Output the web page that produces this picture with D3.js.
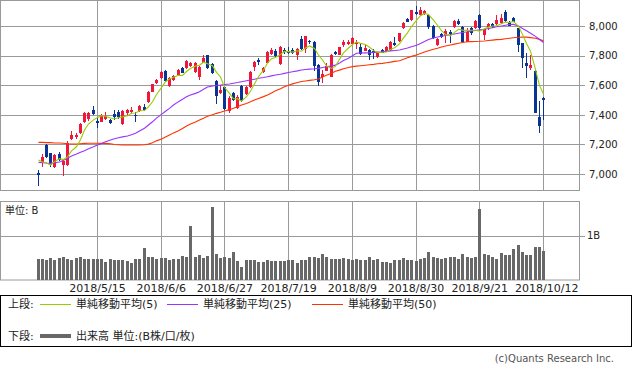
<!DOCTYPE html>
<html>
<head>
<meta charset="utf-8">
<script src="https://cdnjs.cloudflare.com/ajax/libs/d3/7.8.5/d3.min.js"></script>
<style>
  body { margin: 0; background: #fff; }
  svg text { font-family: "DejaVu Sans", "Noto Sans CJK JP", sans-serif; fill: #222; }
</style>
</head>
<body>
<svg id="chart" width="633" height="370"></svg>
<script>
// ---- donnees (cours journaliers) ----
var opens = [7009,7078,7196,7140,7049,7135,7061,7061,7236,7250, 7279,7353,7370,7432,7360,7353,7374,7365,7405,7419,
  7336,7410,7417,7399,7426,7455,7484,7556,7617,7647, 7698,7595,7635,7669,7714,7714,7730,7691,7657,7752,
  7804,7743,7628,7549,7586,7426,7545,7444,7595,7540, 7586,7725,7770,7691,7752,7811,7833,7743,7838,7833,
  7838,7804,7910,7843,7897,7894,7736,7653,7698,7657, 7822,7804,7872,7878,7878,7878,7860,7833,7838,7833,
  7788,7838,7833,7838,7887,7901,7984,8045,8041,8097, 8074,8081,8074,8000,7872,7943,7939,7959,7991,8036,
  7995,7894,7984,7984,8074,7939,7991,8014,8014,8018, 8097,8029,8052,7984,7883,7752,7718,7698,7387,7511];
var highs = [7027,7133,7203,7144,7135,7149,7095,7223,7290,7277, 7345,7419,7422,7459,7378,7405,7421,7375,7432,7432,
  7432,7439,7453,7421,7466,7470,7561,7611,7645,7696, 7703,7655,7669,7709,7726,7770,7760,7760,7730,7804,
  7807,7750,7635,7601,7595,7527,7556,7534,7601,7595, 7696,7764,7782,7726,7831,7851,7845,7865,7851,7858,
  7853,7849,7932,7936,7905,7899,7743,7703,7748,7811, 7831,7861,7909,7905,7928,7905,7885,7879,7845,7842,
  7824,7845,7865,7899,7924,7956,8027,8054,8111,8135, 8126,8108,8081,8007,7916,7953,7978,7973,8041,8045,
  8000,7984,7991,8041,8081,7982,8018,8020,8074,8081, 8108,8034,8059,7990,7887,7816,7804,7703,7495,7518];
var lows = [6921,7049,7111,7049,7038,7088,6988,7054,7230,7236, 7270,7348,7358,7399,7313,7351,7368,7338,7365,7374,
  7333,7392,7412,7349,7422,7429,7480,7551,7611,7642, 7622,7588,7628,7666,7682,7709,7723,7686,7635,7747,
  7709,7679,7473,7541,7432,7414,7493,7439,7490,7534, 7581,7698,7736,7686,7750,7804,7791,7740,7811,7811,
  7811,7770,7838,7820,7882,7698,7595,7613,7696,7655, 7804,7801,7861,7872,7872,7844,7804,7831,7770,7775,
  7782,7815,7831,7834,7868,7894,7982,8025,8037,8074, 8071,8076,7978,7910,7868,7919,7883,7883,7986,8010,
  7887,7892,7939,7980,7973,7905,7973,7986,8010,8014, 8030,7997,8027,7826,7714,7647,7703,7410,7275,7365];
var closes = [6995,7117,7117,7061,7128,7095,7088,7207,7263,7267, 7336,7412,7410,7405,7347,7399,7392,7347,7383,7383,
  7426,7432,7432,7389,7459,7432,7556,7606,7635,7691, 7630,7651,7662,7703,7684,7764,7750,7752,7725,7786,
  7714,7684,7527,7568,7437,7511,7500,7522,7495,7586, 7691,7759,7755,7718,7826,7838,7797,7860,7822,7820,
  7820,7843,7843,7932,7890,7732,7624,7676,7730,7804, 7809,7856,7894,7895,7921,7894,7811,7853,7804,7815,
  7822,7820,7860,7894,7872,7951,8022,8029,8108,8081, 8110,8099,7991,7917,7910,7924,7968,7949,8036,8014,
  7894,7961,7951,8036,7984,7978,8014,7991,8041,8052, 8036,8000,8029,7872,7782,7730,7736,7414,7324,7500];
// volume en milliards (B)
var volumes = [0.47,0.47,0.46,0.50,0.455,0.50,0.51,0.47,0.46,0.50, 0.52,0.48,0.47,0.47,0.47,0.47,0.41,0.47,0.44,0.44,
  0.44,0.43,0.39,0.47,0.47,0.72,0.52,0.52,0.47,0.49, 0.50,0.46,0.47,0.48,0.54,0.53,1.22,0.52,0.57,0.49,
  0.54,1.65,0.59,0.50,0.52,0.50,0.63,0.43,0.29,0.455, 0.44,0.455,0.41,0.41,0.455,0.43,0.42,0.42,0.43,0.44,
  0.455,0.39,0.455,0.455,0.52,0.52,0.50,0.58,0.52,0.47, 0.47,0.47,0.50,0.47,0.455,0.47,0.44,0.455,0.52,0.46,
  0.47,0.41,0.41,0.39,0.44,0.44,0.50,0.46,0.45,0.43, 0.47,0.50,0.64,0.52,0.50,0.48,0.50,0.52,0.52,0.47,
  0.58,0.52,0.50,0.51,1.60,0.58,0.56,0.52,0.47,0.62, 0.56,0.56,0.69,0.78,0.64,0.56,0.56,0.75,0.75,0.66];
// moyennes mobiles (25 et 50)
var ma25 = [7079,7077,7074,7072,7076,7081,7093,7106,7122,7135, 7147,7157,7171,7184,7196,7207,7218,7230,7238,7245,
  7251,7257,7266,7275,7291,7309,7331,7353,7378,7403, 7424,7444,7466,7489,7505,7522,7534,7545,7556,7573,
  7588,7595,7598,7601,7605,7608,7613,7618,7624,7630, 7635,7641,7647,7652,7657,7663,7669,7674,7680,7686,
  7691,7697,7703,7706,7709,7711,7714,7720,7725,7731, 7736,7750,7767,7782,7799,7816,7818,7819,7820,7822,
  7824,7826,7829,7832,7835,7838,7845,7851,7860,7870, 7882,7895,7909,7919,7926,7931,7936,7941,7946,7951,
  7956,7961,7966,7970,7974,7978,7983,7989,7995,8000, 8005,8010,8011,8000,7984,7968,7951,7930,7909,7889];
var ma50 = [7214,7214,7212,7212,7210,7210,7208,7205,7203,7203, 7205,7207,7208,7208,7208,7207,7207,7205,7200,7198,
  7196,7196,7196,7196,7196,7198,7202,7212,7224,7236, 7250,7264,7278,7292,7308,7324,7338,7352,7365,7377,
  7390,7401,7410,7417,7426,7435,7444,7455,7466,7477, 7488,7500,7511,7523,7534,7548,7562,7576,7590,7600,
  7609,7618,7625,7629,7633,7637,7642,7655,7668,7681, 7694,7702,7711,7720,7726,7729,7732,7735,7738,7741,
  7745,7748,7752,7756,7761,7766,7775,7785,7795,7804, 7814,7824,7833,7843,7850,7858,7865,7872,7878,7884,
  7889,7894,7895,7896,7897,7899,7902,7905,7908,7910, 7914,7918,7921,7924,7925,7925,7922,7917,7910,7901];
// debut de la moyenne 5 jours (avant d'avoir 5 cours)
var ma5Head = [7095, 7081, 7074, 7061];

var xTickIdx = [14, 29, 44, 59, 74, 89, 104, 119];
var xTickLabels = ['2018/5/15', '2018/6/6', '2018/6/27', '2018/7/19', '2018/8/9', '2018/8/30', '2018/9/21', '2018/10/12'];
var priceTicks = [7000, 7200, 7400, 7600, 7800, 8000];
var volTicks = [1];

// moyenne 5 jours calculee sur les cloture
var ma5 = closes.map(function(c, i) {
  return i < 4 ? ma5Head[i] : d3.mean(closes.slice(i - 4, i + 1));
});

var svg = d3.select('#chart');
var gridColor = '#9a9a9a';
var upColor = '#f0173c', downColor = '#0a3494';

// echelles
var x = d3.scaleLinear().domain([0, closes.length - 1]).range([37.5, 543]);
var y = d3.scaleLinear().domain([6892, 8176]).range([190, 0]);
var yv = d3.scaleLinear().domain([0, 1.766]).range([280, 201.7]);
var px = function(i) { return Math.round(x(i)); };
var crisp = function(v) { return Math.round(v) + 0.5; };

//////////////// PANNEAU DU HAUT (cours) ////////////////
var haut = svg.append('g');
haut.append('rect').attr('x', 0.5).attr('y', 0.5).attr('width', 579).attr('height', 190)
  .attr('fill', 'none').attr('stroke', gridColor);

haut.selectAll('line.hgrid').data(priceTicks).enter().append('line')
  .attr('x1', 1).attr('x2', 585)
  .attr('y1', d => crisp(y(d))).attr('y2', d => crisp(y(d)))
  .attr('stroke', gridColor);
haut.selectAll('line.vgrid').data(xTickIdx).enter().append('line')
  .attr('x1', d => px(d) + 0.5).attr('x2', d => px(d) + 0.5)
  .attr('y1', 1).attr('y2', 190)
  .attr('stroke', gridColor);

// axe des prix (etiquettes seulement)
var yAxis = d3.axisRight(y).tickValues(priceTicks).tickSize(0).tickPadding(10)
  .tickFormat(d3.format(','));
var gy = haut.append('g').attr('transform', 'translate(579,0)').call(yAxis);
gy.select('.domain').remove();
gy.selectAll('text').style('font-size', '10px').attr('fill', '#222');

// bougies
var candles = haut.selectAll('g.candle').data(d3.range(closes.length)).enter().append('g');
candles.append('line')
  .attr('x1', i => px(i) + 0.5).attr('x2', i => px(i) + 0.5)
  .attr('y1', i => Math.round(y(highs[i]))).attr('y2', i => Math.round(y(lows[i])))
  .attr('stroke', i => closes[i] >= opens[i] ? upColor : downColor);
candles.append('rect')
  .attr('x', i => px(i) - 1).attr('width', 3)
  .attr('y', i => Math.round(y(Math.max(opens[i], closes[i]))))
  .attr('height', i => Math.max(1, Math.round(y(Math.min(opens[i], closes[i]))) - Math.round(y(Math.max(opens[i], closes[i])))))
  .attr('fill', i => closes[i] >= opens[i] ? upColor : downColor);

// moyennes mobiles
var line = d3.line().x((d, i) => px(i) + 0.5).y(d => y(d));
var maList = [
  { data: ma50, color: '#ff3300' },
  { data: ma25, color: '#9933ff' },
  { data: ma5, color: '#99cc00' }
];
maList.forEach(function(m) {
  haut.append('path').attr('d', line(m.data)).attr('fill', 'none')
    .attr('stroke', m.color).attr('stroke-width', 1.1);
});

//////////////// PANNEAU DU BAS (volume) ////////////////
var bas = svg.append('g');
bas.append('rect').attr('x', 0.5).attr('y', 201.5).attr('width', 579).attr('height', 78.5)
  .attr('fill', 'none').attr('stroke', gridColor);
bas.selectAll('line.vgrid').data(xTickIdx).enter().append('line')
  .attr('x1', d => px(d) + 0.5).attr('x2', d => px(d) + 0.5)
  .attr('y1', 202).attr('y2', 280)
  .attr('stroke', gridColor);
bas.selectAll('line.hgrid').data(volTicks).enter().append('line')
  .attr('x1', 1).attr('x2', 585)
  .attr('y1', d => crisp(yv(d))).attr('y2', d => crisp(yv(d)))
  .attr('stroke', gridColor);

var vAxis = d3.axisRight(yv).tickValues(volTicks).tickSize(0).tickPadding(8)
  .tickFormat(d => d + 'B');
var gv = bas.append('g').attr('transform', 'translate(579,0)').call(vAxis);
gv.select('.domain').remove();
gv.selectAll('text').style('font-size', '10px').attr('fill', '#222');

bas.selectAll('rect.vol').data(volumes).enter().append('rect')
  .attr('x', (d, i) => px(i) - 1).attr('width', 3)
  .attr('y', d => Math.round(yv(d))).attr('height', d => 280 - Math.round(yv(d)))
  .attr('fill', '#686868');

bas.append('text').attr('x', 5).attr('y', 214).style('font-size', '10px').text('単位: B');

// dates
var xAxis = d3.axisBottom(x).tickValues(xTickIdx).tickSize(0).tickPadding(4)
  .tickFormat((d, i) => xTickLabels[i]);
var gx = svg.append('g').attr('transform', 'translate(0,280)').call(xAxis);
gx.select('.domain').remove();
gx.selectAll('text').style('font-size', '11px').attr('fill', '#222')
  .attr('text-anchor', (d, i) => i === xTickIdx.length - 1 ? 'end' : 'middle')
  .attr('x', (d, i) => i === xTickIdx.length - 1 ? 578 - x(d) : 0);

//////////////// LEGENDE ////////////////
var leg = svg.append('g');
leg.append('rect').attr('x', 0.5).attr('y', 295.5).attr('width', 631).attr('height', 51)
  .attr('fill', 'none').attr('stroke', '#000');
leg.append('text').attr('x', 8).attr('y', 308).style('font-size', '11px').text('上段:');
var legItems = [
  { x: 40, color: '#99cc00', label: '単純移動平均(5)' },
  { x: 167, color: '#9933ff', label: '単純移動平均(25)' },
  { x: 312, color: '#ff3300', label: '単純移動平均(50)' }
];
legItems.forEach(function(d) {
  leg.append('line').attr('x1', d.x).attr('x2', d.x + 31).attr('y1', 304.5).attr('y2', 304.5)
    .attr('stroke', d.color).attr('stroke-width', 1);
  leg.append('text').attr('x', d.x + 36).attr('y', 308).style('font-size', '11px').text(d.label);
});
leg.append('text').attr('x', 8).attr('y', 340).style('font-size', '11px').text('下段:');
leg.append('line').attr('x1', 40).attr('x2', 71).attr('y1', 336).attr('y2', 336)
  .attr('stroke', '#686868').attr('stroke-width', 4);
leg.append('text').attr('x', 76).attr('y', 340).style('font-size', '11px').text('出来高 単位:(B株/口/枚)');

svg.append('text').attr('x', 614).attr('y', 362).attr('text-anchor', 'end')
  .style('font-size', '10px').style('fill', '#555')
  .text('(c)Quants Research Inc.');
</script>
</body>
</html>
